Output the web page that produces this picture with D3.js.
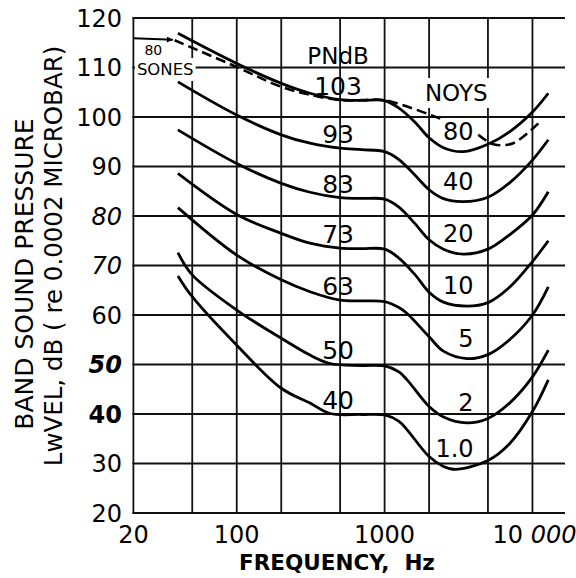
<!DOCTYPE html>
<html>
<head>
<meta charset="utf-8">
<title>PNdB / Noys contours</title>
<script src="https://d3js.org/d3.v7.min.js"></script>
<style>
    body { margin: 0; background: #fff; }
    text { font-family: "DejaVu Sans", sans-serif; fill: #000; }
</style>
</head>
<body>
<div id="chart"></div>
<script>
    // axis ticks
    var yTicks = [20, 30, 40, 50, 60, 70, 80, 90, 100, 110, 120];
    var xGrid = [50, 100, 200, 500, 1000, 2000, 5000, 10000];
    var xLabels = [20, 100, 1000, 10000];

    // one contour per PNdB level, labelled with its noys value
    var pndb = [103, 93, 83, 73, 63, 50, 40];
    var noys = ["80", "40", "20", "10", "5", "2", "1.0"];

    // contour points: [Hz, dB]
    var c103 = [[40,116.9],[100,110.8],[200,106.8],[313,104.8],[500,103.5],[700,103.35],[1000,103.3],[1250,101.8],[1600,99.0],[2000,95.8],[2500,93.8],[3400,93.0],[5000,94.5],[7000,97.0],[10000,101.0],[12800,104.8]];
    var c93  = [[40,107.1],[100,100.4],[200,96.4],[313,94.7],[500,93.7],[700,93.4],[1000,93.0],[1250,91.4],[1600,88.3],[2000,85.3],[2500,83.5],[3400,82.9],[5000,83.8],[7000,86.7],[10000,91.3],[12800,95.4]];
    var c83  = [[40,97.4],[100,90.6],[200,86.6],[313,84.8],[500,83.7],[700,83.55],[1000,83.4],[1250,81.8],[1600,78.5],[2000,75.2],[2500,73.3],[3400,72.3],[5000,73.3],[7000,76.2],[10000,80.2],[12800,84.9]];
    var c73  = [[40,88.6],[100,80.3],[200,76.5],[313,74.5],[500,73.5],[700,73.4],[1000,73.3],[1250,71.5],[1600,68.2],[2000,64.6],[2500,62.6],[3600,61.8],[5000,62.5],[7000,65.6],[10000,70.8],[12800,75.0]];
    var c63  = [[40,81.7],[100,72.1],[200,67.1],[313,64.7],[500,63.0],[700,62.85],[1000,62.7],[1250,61.5],[1420,60.3],[2000,55.6],[2500,52.7],[3600,51.2],[5000,52.0],[7000,55.0],[10000,60.0],[12800,65.7]];
    var c50  = [[40,72.6],[50,68.1],[100,61.0],[200,55.3],[313,51.9],[428,50.2],[700,49.8],[1000,49.7],[1250,48.5],[1420,46.9],[2000,41.5],[2500,39.4],[3600,38.2],[5000,39.1],[7000,42.2],[10000,47.5],[12800,52.9]];
    var c40  = [[40,67.9],[50,63.7],[100,53.9],[200,45.2],[313,42.2],[428,40.1],[700,39.9],[1000,39.8],[1250,38.5],[1420,36.8],[2000,31.4],[2500,29.4],[3000,28.8],[5000,30.6],[7000,34.0],[10000,40.5],[12800,46.9]];

    // 80 sones contour (dashed), null = hidden behind the "80" label
    var sones = [[38,115.5],[100,110.1],[200,106.1],[313,104.5],[500,103.4],[700,103.4],[1000,103.4],[2560,99.3],null,[4300,96.4],[5450,94.5],[7400,94.7],[11200,99.0]];
    var sonesArrow = [[20,115.9],[37,115.6]];

    var contours = [c103, c93, c83, c73, c63, c50, c40];

    var width = 576, height = 578;
    var svg = d3.select("#chart").append("svg")
        .attr("width", width)
        .attr("height", height);

    var x = d3.scaleLog().domain([20, 16600]).range([133.4, 565]);
    var y = d3.scaleLinear().domain([20, 120]).range([513, 18]);

    svg.append("defs").append("marker")
        .attr("id", "arrow")
        .attr("viewBox", "0 0 10 10")
        .attr("refX", 10).attr("refY", 5)
        .attr("markerWidth", 9).attr("markerHeight", 6)
        .attr("markerUnits", "userSpaceOnUse")
        .attr("orient", "auto")
        .append("path").attr("d", "M0,0 L10,5 L0,10 z").attr("fill", "#000");

    // grid
    var grid = svg.append("g").attr("stroke", "#111").attr("stroke-width", 1.8);
    grid.selectAll(".hl").data(yTicks).enter().append("line")
        .attr("x1", x(20) - 1).attr("x2", x.range()[1])
        .attr("y1", function(d) { return y(d); })
        .attr("y2", function(d) { return y(d); });
    grid.selectAll(".vl").data([20].concat(xGrid)).enter().append("line")
        .attr("x1", function(d) { return x(d); })
        .attr("x2", function(d) { return x(d); })
        .attr("y1", y(120)).attr("y2", y(20));

    // white patches under labels that sit on the grid
    var bgLayer = svg.append("g");

    // tick labels
    svg.selectAll(".ytl").data(yTicks).enter().append("text")
        .attr("x", 122)
        .attr("y", function(d) { return y(d); })
        .attr("dy", "0.36em")
        .attr("text-anchor", "end")
        .style("font-size", "24px")
        .style("font-style", function(d) { return (d == 80 || d == 70 || d == 50) ? "italic" : "normal"; })
        .style("font-weight", function(d) { return (d == 50 || d == 40) ? "bold" : "normal"; })
        .text(function(d) { return d; });

    var xt = svg.selectAll(".xtl").data(xLabels).enter().append("text")
        .attr("x", function(d) { return x(d); })
        .attr("y", 543)
        .attr("text-anchor", "middle")
        .style("font-size", "24px");
    xt.filter(function(d) { return d < 10000; }).text(function(d) { return d; });
    xt.filter(function(d) { return d == 10000; }).each(function() {
        var t = d3.select(this).attr("x", x(10000) + 2);
        t.append("tspan").text("10 ");
        t.append("tspan").style("font-style", "italic").text("000");
    });

    svg.append("text")
        .attr("x", 337).attr("y", 570)
        .attr("text-anchor", "middle")
        .style("font-size", "21.5px").style("font-weight", "bold").style("white-space", "pre")
        .text("FREQUENCY,  Hz");

    svg.append("text")
        .attr("transform", "translate(33,274) rotate(-90)")
        .attr("text-anchor", "middle")
        .style("font-size", "25px")
        .text("BAND SOUND PRESSURE");
    svg.append("text")
        .attr("transform", "translate(62,256) rotate(-90)")
        .attr("text-anchor", "middle")
        .style("font-size", "24.5px")
        .text("LwVEL, dB ( re 0.0002 MICROBAR)");

    // contours
    var line = d3.line()
        .defined(function(d) { return d != null; })
        .x(function(d) { return x(d[0]); })
        .y(function(d) { return y(d[1]); })
        .curve(d3.curveCatmullRom.alpha(0.5));

    svg.selectAll(".contour").data(contours).enter().append("path")
        .attr("class", "contour")
        .attr("d", line)
        .attr("fill", "none")
        .attr("stroke", "#000")
        .attr("stroke-width", 2.8);

    svg.append("path")
        .attr("d", line(sones))
        .attr("fill", "none")
        .attr("stroke", "#000")
        .attr("stroke-width", 2.6)
        .attr("stroke-dasharray", "10,5");

    svg.append("path")
        .attr("d", d3.line().x(function(d) { return x(d[0]); }).y(function(d) { return y(d[1]); })(sonesArrow))
        .attr("stroke", "#000")
        .attr("stroke-width", 2)
        .attr("marker-end", "url(#arrow)");

    // labels
    svg.append("text")
        .attr("x", x(500) - 2).attr("y", y(110) - 4)
        .attr("text-anchor", "middle")
        .style("font-size", "23px")
        .text("PNdB");

    // plateau level of each contour (first point at or above 420 Hz)
    function plateau(c) {
        return c.find(function(p) { return p[0] >= 420; })[1];
    }

    svg.selectAll(".pl").data(pndb).enter().append("text")
        .attr("x", x(500) - 2)
        .attr("y", function(d, i) { return y(plateau(contours[i])) - 5; })
        .attr("text-anchor", "middle")
        .style("font-size", "25px")
        .text(function(d) { return d; });

    svg.selectAll(".nl").data(noys).enter().append("text")
        .attr("x", x(4000))
        .attr("y", function(d, i) { return y(d3.min(contours[i], function(p) { return p[1]; })) - 12; })
        .attr("text-anchor", "end")
        .style("font-size", "24px")
        .text(function(d) { return d; });

    var labelsWithBg = [];
    labelsWithBg.push(svg.append("text")
        .attr("x", x(4000) + 14).attr("y", y(100) - 16)
        .attr("text-anchor", "end")
        .style("font-size", "23px")
        .text("NOYS"));
    labelsWithBg.push(svg.append("text")
        .attr("x", x(20) + 11).attr("y", 55)
        .style("font-size", "14px")
        .text("80"));
    labelsWithBg.push(svg.append("text")
        .attr("x", x(20) + 3.5).attr("y", 75)
        .style("font-size", "16.5px")
        .text("SONES"));

    labelsWithBg.forEach(function(t) {
        var b = t.node().getBBox();
        bgLayer.append("rect")
            .attr("x", b.x - 2).attr("y", b.y - 2)
            .attr("width", b.width + 4).attr("height", b.height + 4)
            .attr("fill", "#fff");
    });
</script>
</body>
</html>
